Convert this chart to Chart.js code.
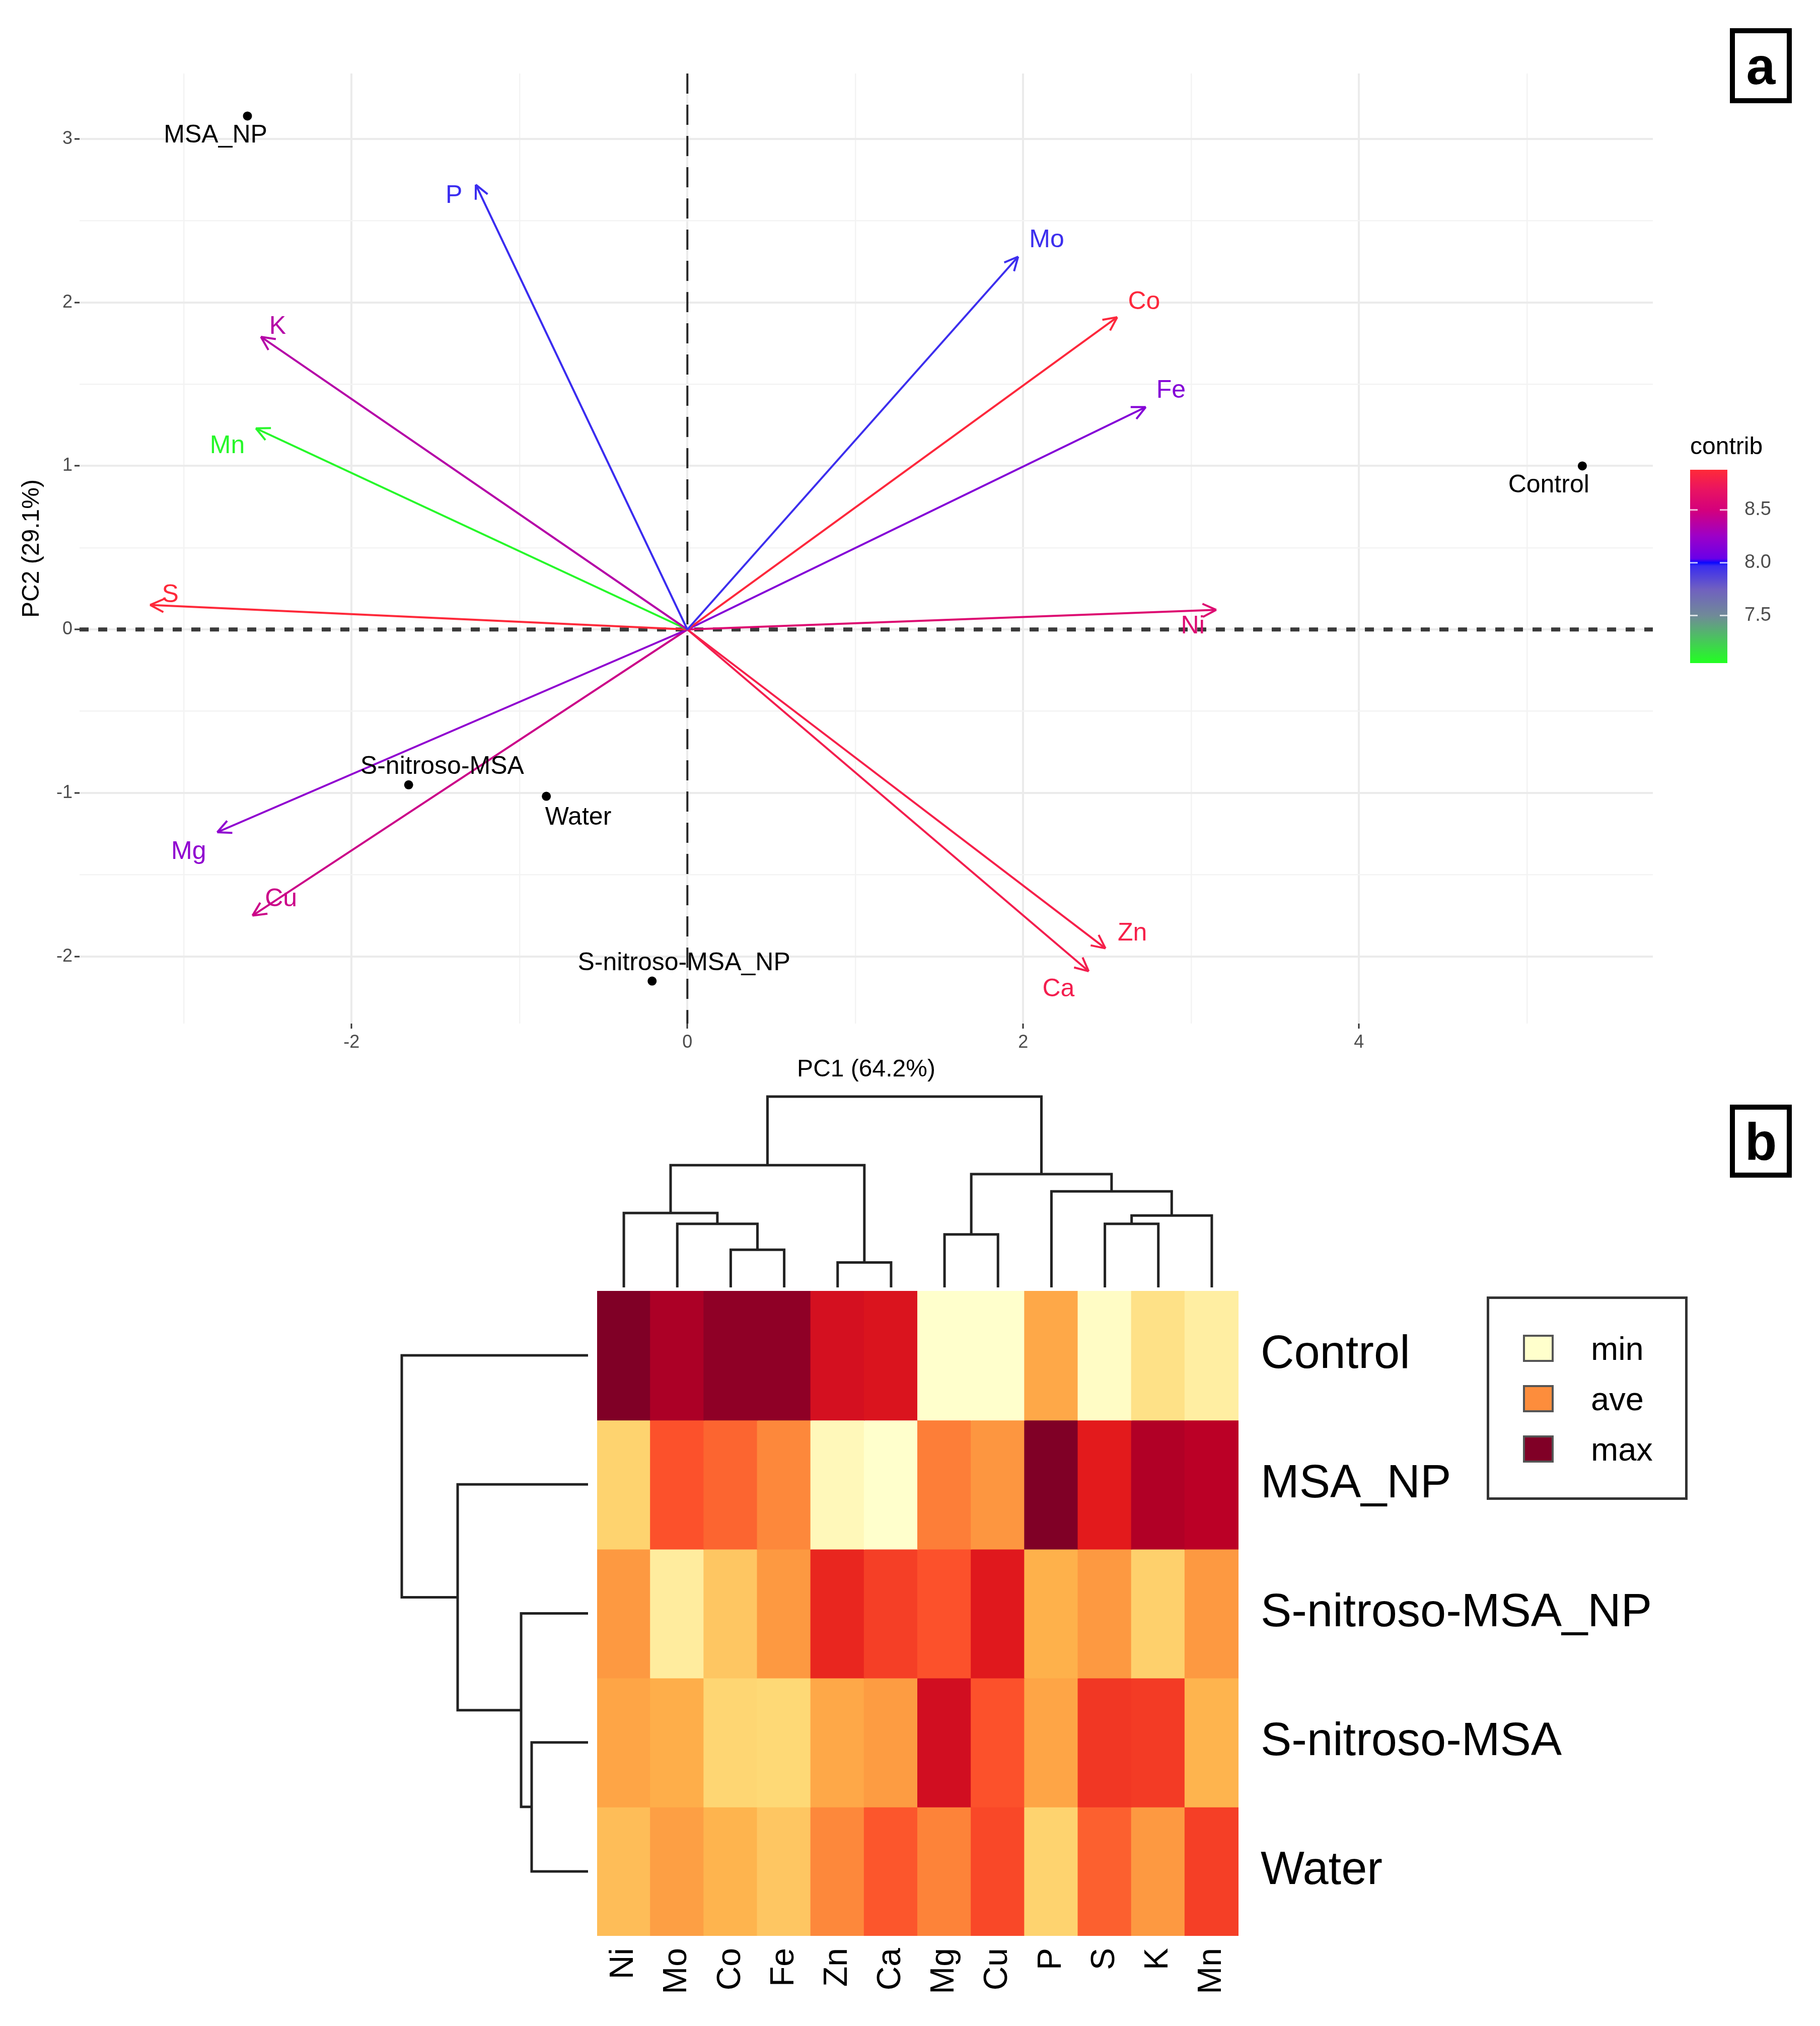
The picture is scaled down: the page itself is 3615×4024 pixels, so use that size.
<!DOCTYPE html>
<html>
<head>
<meta charset="utf-8">
<script src="https://cdn.jsdelivr.net/npm/chart.js@4.4.1/dist/chart.umd.min.js"></script>
<style>
  body { margin: 0; background: #fff; }
  #page { position: relative; width: 3615px; height: 4024px; overflow: hidden; font-family: "Liberation Sans", Arial, sans-serif; }
  canvas { position: absolute; }
  .tag { position: absolute; box-sizing: border-box; border: 10px solid #000; font-weight: bold; font-size: 104px; line-height: 1; display: flex; align-items: center; justify-content: center; color: #000; }
  #legendB { position: absolute; left: 2953px; top: 2575px; width: 399px; height: 404px; box-sizing: border-box; border: 5px solid #333; background: #fff; z-index: 2; }
  .lg-item { position: absolute; left: 67px; height: 54px; display: flex; align-items: center; }
  .lg-sw { width: 61px; height: 54px; box-sizing: border-box; border: 4px solid #555; }
  .lg-tx { margin-left: 74px; font-size: 65px; color: #000; }
</style>
</head>
<body>
<div id="page">
  <canvas id="pca" width="3615" height="2180" style="left:0px;top:0px;width:3615px;height:2180px"></canvas>
  <canvas id="cbar" width="240" height="490" style="left:3340px;top:860px;width:240px;height:490px"></canvas>
  <canvas id="colTree" width="1274" height="389" style="left:1186px;top:2168px;width:1274px;height:389px"></canvas>
  <canvas id="rowTree" width="378" height="1281" style="left:790px;top:2564px;width:378px;height:1281px"></canvas>
  <canvas id="heat" width="2429" height="1460" style="left:1186px;top:2564px;width:2429px;height:1460px"></canvas>
  <div id="legendB"></div>
  <div class="tag" style="left:3436px;top:56px;width:123px;height:149px">a</div>
  <div class="tag" style="left:3436px;top:2194px;width:123px;height:145px">b</div>
</div>
<script>
// ---- panel a : PCA biplot ----
const pcaGroups = ["MSA_NP", "Control", "S-nitroso-MSA", "Water", "S-nitroso-MSA_NP"];
const groupPC1 = [-2.62, 5.33, -1.66, -0.84, -0.21];
const groupPC2 = [3.14, 1.00, -0.95, -1.02, -2.15];
const groupLabelPC1 = [-2.81, 5.13, -1.46, -0.65, -0.02];
const groupLabelPC2 = [3.02, 0.88, -0.84, -1.15, -2.04];

const elements = ["P", "Mo", "Co", "Fe", "K", "Mn", "S", "Ni", "Mg", "Cu", "Zn", "Ca"];
const varPC1 = [-1.26, 1.97, 2.56, 2.73, -2.54, -2.57, -3.20, 3.15, -2.80, -2.59, 2.49, 2.39];
const varPC2 = [2.72, 2.28, 1.91, 1.36, 1.79, 1.23, 0.15, 0.12, -1.24, -1.75, -1.95, -2.09];
const varContrib = [7.97, 7.96, 8.86, 8.15, 8.36, 7.08, 8.87, 8.58, 8.20, 8.46, 8.80, 8.78];
const varLabelPC1 = [-1.39, 2.14, 2.72, 2.88, -2.44, -2.74, -3.08, 3.01, -2.97, -2.42, 2.65, 2.21];
const varLabelPC2 = [2.65, 2.38, 2.00, 1.46, 1.85, 1.12, 0.21, 0.02, -1.36, -1.65, -1.86, -2.20];

const xGrid = [-3, -2, -1, 0, 1, 2, 3, 4, 5];
const xTickLabels = [-2, 0, 2, 4];
const yGrid = [-2, -1.5, -1, -0.5, 0, 0.5, 1, 1.5, 2, 2.5, 3];
const yTickLabels = [-2, -1, 0, 1, 2, 3];

const contribMin = 7.05, contribMax = 8.88;
const contribTicks = [7.5, 8.0, 8.5];
const contribStops = [7.05, 7.5, 7.75, 7.97, 8.0, 8.04, 8.25, 8.5, 8.7, 8.88];
const contribColors = ["#22ff22", "#708a98", "#7060c0", "#3a2cf0", "#0808ff", "#6a00e8", "#9c00c8", "#d4007c", "#ea1460", "#ff2a38"];

// ---- panel b : heatmap ----
const heatCols = ["Ni", "Mo", "Co", "Fe", "Zn", "Ca", "Mg", "Cu", "P", "S", "K", "Mn"];
const heatRows = ["Control", "MSA_NP", "S-nitroso-MSA_NP", "S-nitroso-MSA", "Water"];
const heatControl  = [1.00, 0.91, 0.97, 0.97, 0.80, 0.78, 0.00, 0.00, 0.41, 0.02, 0.20, 0.12];
const heatMSA_NP   = [0.27, 0.62, 0.58, 0.51, 0.05, 0.00, 0.53, 0.47, 1.00, 0.75, 0.90, 0.88];
const heatSNMSA_NP = [0.46, 0.13, 0.31, 0.46, 0.72, 0.66, 0.62, 0.76, 0.38, 0.46, 0.28, 0.46];
const heatSNMSA    = [0.42, 0.39, 0.26, 0.25, 0.41, 0.45, 0.81, 0.62, 0.42, 0.68, 0.67, 0.37];
const heatWater    = [0.34, 0.44, 0.37, 0.31, 0.51, 0.61, 0.52, 0.64, 0.27, 0.59, 0.46, 0.66];
const heatValues = [heatControl, heatMSA_NP, heatSNMSA_NP, heatSNMSA, heatWater];

// hclust-style merges: negative = leaf, positive = earlier merge
const colMerge = [[-5, -6], [-3, -4], [-7, -8], [-10, -11], [-2, 2], [4, -12], [-1, 5], [-9, 6], [3, 8], [7, 1], [10, 9]];
const colHeight = [19.3, 29.2, 41.1, 49.3, 49.3, 55.7, 57.7, 74.5, 87.9, 94.8, 148];
const rowMerge = [[-4, -5], [-3, 1], [-2, 2], [-1, 3]];
const rowHeight = [43.9, 52.1, 101.5, 145];

const legendLabels = ["min", "ave", "max"];
const legendValues = [0, 0.5, 1];
const ylOrRd = ["#ffffcc", "#ffeda0", "#fed976", "#feb24c", "#fd8d3c", "#fc4e2a", "#e31a1c", "#bd0026", "#800026"];

Chart.defaults.font.family = '"Liberation Sans", Arial, sans-serif';

function hexToRgb(h) { const n = parseInt(h.slice(1), 16); return [n >> 16 & 255, n >> 8 & 255, n & 255]; }
function rampColor(stops, cols, v) {
    if (v <= stops[0]) return cols[0];
    for (let i = 1; i < stops.length; i++) {
        if (v <= stops[i]) {
            const t = (v - stops[i - 1]) / (stops[i] - stops[i - 1]);
            const a = hexToRgb(cols[i - 1]), b = hexToRgb(cols[i]);
            return `rgb(${a.map((c, k) => Math.round(c + (b[k] - c) * t)).join(',')})`;
        }
    }
    return cols[cols.length - 1];
}
const heatStops = ylOrRd.map((c, i) => i / (ylOrRd.length - 1));
const heatColor = v => rampColor(heatStops, ylOrRd, v);
const varColors = varContrib.map(v => rampColor(contribStops, contribColors, v));

// dashed zero lines, arrow heads and text labels
const pcaDecor = {
    id: 'pcaDecor',
    beforeDatasetsDraw(chart) {
        const { ctx, chartArea: a, scales: { x, y } } = chart;
        ctx.save();
        ctx.strokeStyle = '#262626';
        ctx.lineWidth = 4;
        ctx.setLineDash([40, 22]);
        const x0 = x.getPixelForValue(0);
        ctx.beginPath(); ctx.moveTo(x0, a.top); ctx.lineTo(x0, a.bottom); ctx.stroke();
        ctx.strokeStyle = '#3a3a3a';
        ctx.lineWidth = 8;
        ctx.setLineDash([18, 19]);
        const y0 = y.getPixelForValue(0);
        ctx.beginPath(); ctx.moveTo(a.left, y0); ctx.lineTo(a.right, y0); ctx.stroke();
        ctx.restore();
    },
    afterDatasetsDraw(chart) {
        const { ctx, scales: { x, y } } = chart;
        ctx.save();
        const ox = x.getPixelForValue(0), oy = y.getPixelForValue(0);
        elements.forEach((el, i) => {
            const tx = x.getPixelForValue(varPC1[i]), ty = y.getPixelForValue(varPC2[i]);
            const ang = Math.atan2(ty - oy, tx - ox);
            ctx.strokeStyle = varColors[i];
            ctx.lineWidth = 4;
            ctx.beginPath();
            [0.45, -0.45].forEach(d => {
                ctx.moveTo(tx - 30 * Math.cos(ang + d), ty - 30 * Math.sin(ang + d));
                ctx.lineTo(tx, ty);
            });
            ctx.stroke();
            ctx.fillStyle = varColors[i];
            ctx.font = '50px "Liberation Sans", Arial, sans-serif';
            ctx.textAlign = 'center';
            ctx.textBaseline = 'middle';
            ctx.fillText(el, x.getPixelForValue(varLabelPC1[i]), y.getPixelForValue(varLabelPC2[i]));
        });
        ctx.fillStyle = '#000';
        pcaGroups.forEach((g, i) => {
            ctx.fillText(g, x.getPixelForValue(groupLabelPC1[i]), y.getPixelForValue(groupLabelPC2[i]));
        });
        ctx.restore();
    }
};

const isInt = v => Math.abs(v - Math.round(v)) < 1e-6;
const isEven = v => isInt(v) && Math.round(v) % 2 === 0;

new Chart(document.getElementById('pca'), {
    type: 'scatter',
    data: {
        datasets: [
            ...elements.map((el, i) => ({
                label: el,
                data: [{ x: 0, y: 0 }, { x: varPC1[i], y: varPC2[i] }],
                showLine: true, borderColor: varColors[i], borderWidth: 4, pointRadius: 0
            })),
            {
                label: 'groups',
                data: pcaGroups.map((g, i) => ({ x: groupPC1[i], y: groupPC2[i] })),
                pointRadius: 9, pointBackgroundColor: '#000', pointBorderWidth: 0, showLine: false
            }
        ]
    },
    options: {
        responsive: false, animation: false, devicePixelRatio: 1,
        layout: { padding: { top: 146, right: 332, left: 0, bottom: 0 } },
        plugins: { legend: { display: false }, tooltip: { enabled: false } },
        scales: {
            x: {
                type: 'linear', min: -3.62, max: 5.75,
                afterBuildTicks: s => { s.ticks = xGrid.map(v => ({ value: v })); },
                afterFit: s => { s.height = 147; },
                border: { display: false },
                grid: {
                    color: c => isEven(c.tick.value) ? '#ebebeb' : '#f3f3f3',
                    lineWidth: c => isEven(c.tick.value) ? 4 : 2.5,
                    tickLength: 10, tickWidth: 3,
                    tickColor: c => xTickLabels.includes(c.tick.value) ? '#333' : 'rgba(0,0,0,0)'
                },
                ticks: { callback: v => xTickLabels.includes(v) ? String(v) : '', font: { size: 36 }, color: '#4d4d4d', padding: 6, maxRotation: 0, autoSkip: false },
                title: { display: true, text: 'PC1 (64.2%)', font: { size: 48 }, color: '#000', padding: { top: 0, bottom: 26 } }
            },
            y: {
                type: 'linear', min: -2.41, max: 3.40,
                afterBuildTicks: s => { s.ticks = yGrid.map(v => ({ value: v })); },
                afterFit: s => { s.width = 158; },
                border: { display: false },
                grid: {
                    color: c => isInt(c.tick.value) ? '#ebebeb' : '#f3f3f3',
                    lineWidth: c => isInt(c.tick.value) ? 4 : 2.5,
                    tickLength: 10, tickWidth: 3,
                    tickColor: c => yTickLabels.includes(c.tick.value) ? '#333' : 'rgba(0,0,0,0)'
                },
                ticks: { callback: v => yTickLabels.includes(v) ? String(v) : '', font: { size: 36 }, color: '#4d4d4d', padding: 4, autoSkip: false },
                title: { display: true, text: 'PC2 (29.1%)', font: { size: 48 }, color: '#000', padding: { top: 35, bottom: 0 } }
            }
        }
    },
    plugins: [pcaDecor]
});

// colour bar for contrib
const cbarDecor = {
    id: 'cbarDecor',
    afterDatasetsDraw(chart) {
        const { ctx, chartArea: a, scales: { y } } = chart;
        ctx.save();
        ctx.strokeStyle = 'rgba(255,255,255,0.75)';
        ctx.lineWidth = 3;
        contribTicks.forEach(v => {
            const py = y.getPixelForValue(v);
            ctx.beginPath();
            ctx.moveTo(a.left, py); ctx.lineTo(a.left + 15, py);
            ctx.moveTo(a.right - 15, py); ctx.lineTo(a.right, py);
            ctx.stroke();
        });
        ctx.fillStyle = '#000';
        ctx.font = '48px "Liberation Sans", Arial, sans-serif';
        ctx.textAlign = 'left';
        ctx.textBaseline = 'alphabetic';
        ctx.fillText('contrib', a.left, a.top - 31);
        ctx.restore();
    }
};
new Chart(document.getElementById('cbar'), {
    type: 'bar',
    data: {
        labels: ['contrib'],
        datasets: [{
            data: [[contribMin, contribMax]],
            barPercentage: 1, categoryPercentage: 1, borderWidth: 0,
            backgroundColor: c => {
                const { chart } = c;
                if (!chart.chartArea) return contribColors[0];
                const y = chart.scales.y;
                const g = chart.ctx.createLinearGradient(0, y.getPixelForValue(contribMin), 0, y.getPixelForValue(contribMax));
                contribStops.forEach((s, i) => g.addColorStop((s - contribMin) / (contribMax - contribMin), contribColors[i]));
                return g;
            }
        }]
    },
    options: {
        responsive: false, animation: false, devicePixelRatio: 1,
        layout: { padding: { top: 73, bottom: 33, left: 17, right: 0 } },
        plugins: { legend: { display: false }, tooltip: { enabled: false } },
        scales: {
            x: { display: false },
            y: {
                position: 'right', min: contribMin, max: contribMax,
                afterBuildTicks: s => { s.ticks = contribTicks.map(v => ({ value: v })); },
                afterFit: s => { s.width = 149; s.paddingTop = 0; s.paddingBottom = 0; },
                grid: { display: false }, border: { display: false },
                ticks: { callback: v => v.toFixed(1), font: { size: 38 }, color: '#4d4d4d', padding: 26 }
            }
        }
    },
    plugins: [cbarDecor]
});

// dendrograms
function dendroShapes(merges, heights) {
    const pos = [], hgt = [];
    const node = id => id < 0 ? [-id - 1, 0] : [pos[id - 1], hgt[id - 1]];
    return merges.map((m, i) => {
        const [a, ha] = node(m[0]);
        const [b, hb] = node(m[1]);
        pos[i] = (a + b) / 2;
        hgt[i] = heights[i];
        return [[a, ha], [a, heights[i]], [b, heights[i]], [b, hb]];
    });
}
const treeStyle = { showLine: true, borderColor: '#222', borderWidth: 5, pointRadius: 0, clip: false };

new Chart(document.getElementById('colTree'), {
    type: 'scatter',
    data: { datasets: dendroShapes(colMerge, colHeight).map(s => ({ ...treeStyle, data: s.map(p => ({ x: p[0], y: p[1] })) })) },
    options: {
        responsive: false, animation: false, devicePixelRatio: 1,
        layout: { padding: { top: 10, bottom: 0, left: 0, right: 0 } },
        plugins: { legend: { display: false }, tooltip: { enabled: false } },
        scales: {
            x: { type: 'linear', display: false, min: -0.5, max: heatCols.length - 0.5 },
            y: { type: 'linear', display: false, min: 0, max: 148 }
        }
    }
});

new Chart(document.getElementById('rowTree'), {
    type: 'scatter',
    data: { datasets: dendroShapes(rowMerge, rowHeight).map(s => ({ ...treeStyle, data: s.map(p => ({ x: p[1], y: p[0] })) })) },
    options: {
        responsive: false, animation: false, devicePixelRatio: 1,
        layout: { padding: { top: 0, bottom: 0, left: 8, right: 0 } },
        plugins: { legend: { display: false }, tooltip: { enabled: false } },
        scales: {
            x: { type: 'linear', display: false, min: 0, max: 145, reverse: true },
            y: { type: 'linear', display: false, min: -0.5, max: heatRows.length - 0.5, reverse: true }
        }
    }
});

// heatmap
new Chart(document.getElementById('heat'), {
    type: 'bar',
    data: {
        labels: heatCols,
        datasets: heatRows.map((r, ri) => ({
            label: r,
            data: heatCols.map(() => [ri - 0.5, ri + 0.5]),
            backgroundColor: heatValues[ri].map(heatColor),
            grouped: false, barPercentage: 1, categoryPercentage: 1,
            borderWidth: 0, inflateAmount: 1
        }))
    },
    options: {
        responsive: false, animation: false, devicePixelRatio: 1,
        layout: { padding: 0 },
        plugins: { legend: { display: false }, tooltip: { enabled: false } },
        scales: {
            x: {
                afterFit: s => { s.height = 179; s.paddingLeft = 0; s.paddingRight = 0; },
                grid: { display: false }, border: { display: false },
                ticks: { autoSkip: false, minRotation: 90, maxRotation: 90, font: { size: 66 }, color: '#000', padding: 16 }
            },
            y: {
                type: 'linear', position: 'right', min: -0.5, max: heatRows.length - 0.5, reverse: true,
                afterBuildTicks: s => { s.ticks = heatRows.map((r, i) => ({ value: i })); },
                afterFit: s => { s.width = 1155; s.paddingTop = 0; s.paddingBottom = 0; },
                grid: { display: false }, border: { display: false },
                ticks: { callback: v => heatRows[v], font: { size: 92 }, color: '#000', padding: 36 }
            }
        }
    }
});

// heatmap legend
const legendBox = document.getElementById('legendB');
legendLabels.forEach((lab, i) => {
    const item = document.createElement('div');
    item.className = 'lg-item';
    item.style.top = (71 + i * 100) + 'px';
    item.innerHTML = `<div class="lg-sw" style="background:${heatColor(legendValues[i])}"></div><div class="lg-tx">${lab}</div>`;
    legendBox.appendChild(item);
});
</script>
</body>
</html>
